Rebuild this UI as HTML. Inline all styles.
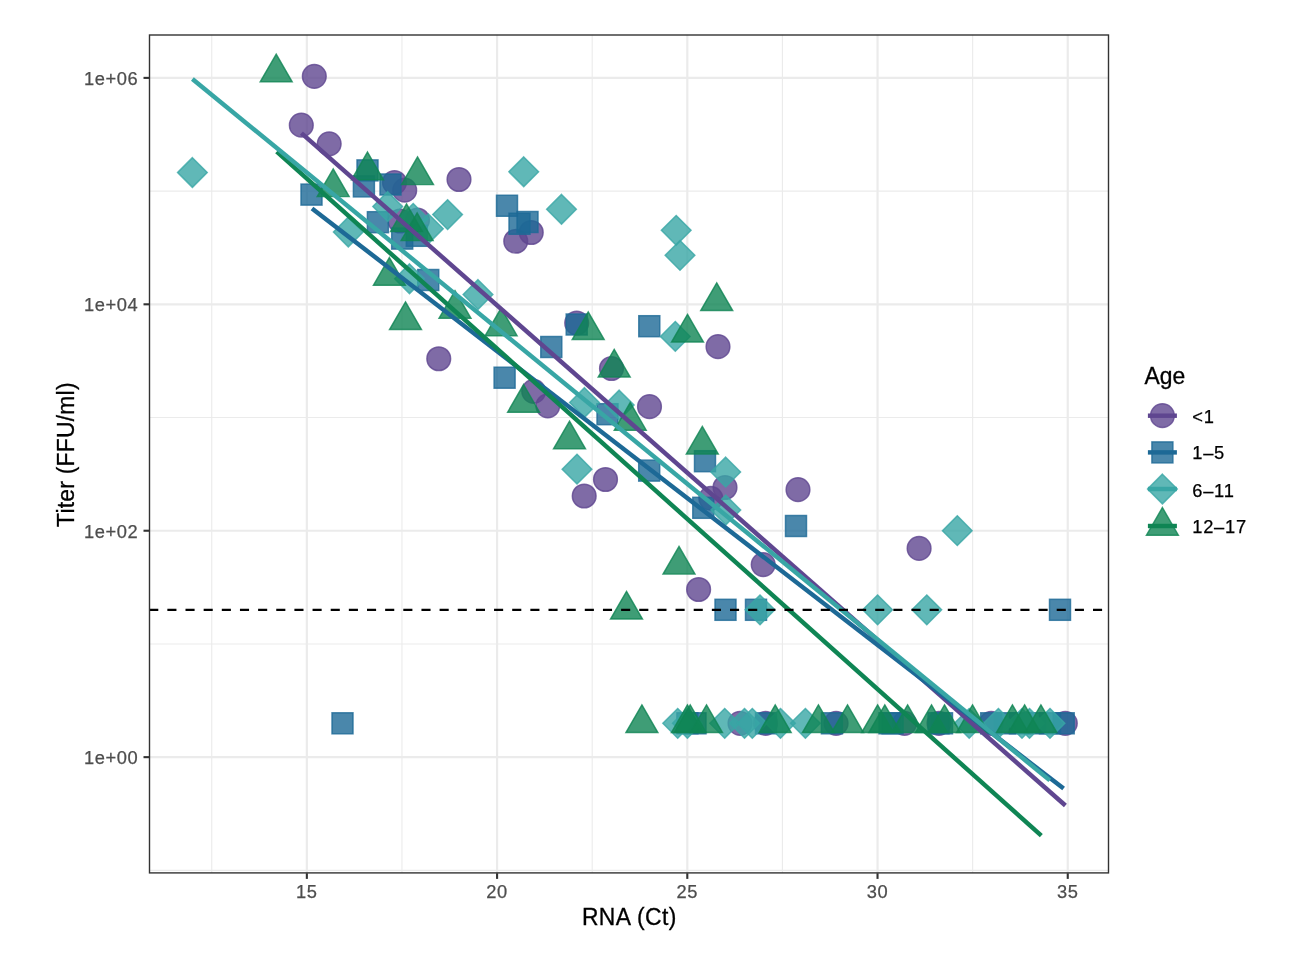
<!DOCTYPE html>
<html><head><meta charset="utf-8"><title>Titer vs RNA</title>
<style>
html,body{margin:0;padding:0;background:#fff}
svg{display:block;will-change:transform}
text{font-family:"Liberation Sans",sans-serif}
.p{fill:#5F4690;fill-opacity:0.8;stroke:#5F4690;stroke-opacity:0.8;stroke-width:1.47;stroke-linejoin:miter}
.lp{stroke:#5F4690;stroke-width:4.45;fill:none}
.b{fill:#1D6996;fill-opacity:0.8;stroke:#1D6996;stroke-opacity:0.8;stroke-width:1.47;stroke-linejoin:miter}
.lb{stroke:#1D6996;stroke-width:4.45;fill:none}
.t{fill:#38A6A5;fill-opacity:0.8;stroke:#38A6A5;stroke-opacity:0.8;stroke-width:1.47;stroke-linejoin:miter}
.lt{stroke:#38A6A5;stroke-width:4.45;fill:none}
.g{fill:#0F8554;fill-opacity:0.8;stroke:#0F8554;stroke-opacity:0.8;stroke-width:1.47;stroke-linejoin:miter}
.lg{stroke:#0F8554;stroke-width:4.45;fill:none}
.gM{stroke:#ebebeb;stroke-width:2.2}
.gm{stroke:#ebebeb;stroke-width:1.1}
.tk{stroke:#333;stroke-width:2.1}
.at{font-size:18.3px;fill:#4d4d4d;letter-spacing:.6px;stroke:#4d4d4d;stroke-width:.25px}
.ti{font-size:22.9px;fill:#000;stroke:#000;stroke-width:.3px}
.kt{font-size:18.3px;fill:#000;letter-spacing:.8px;stroke:#000;stroke-width:.25px}
</style></head><body>
<svg width="1308" height="960" viewBox="0 0 1308 960">
<rect width="1308" height="960" fill="#fff"/>
<defs><clipPath id="cp"><rect x="149.2" y="34.6" width="959.8" height="838.6"/></clipPath></defs>
<g clip-path="url(#cp)">
<line class="gm" x1="149.2" x2="1109" y1="191.1" y2="191.1"/><line class="gm" x1="149.2" x2="1109" y1="417.52" y2="417.52"/><line class="gm" x1="149.2" x2="1109" y1="643.94" y2="643.94"/><line class="gm" x1="149.2" x2="1109" y1="870.36" y2="870.36"/><line class="gm" x1="211.74" x2="211.74" y1="34.6" y2="873.2"/><line class="gm" x1="401.96" x2="401.96" y1="34.6" y2="873.2"/><line class="gm" x1="592.19" x2="592.19" y1="34.6" y2="873.2"/><line class="gm" x1="782.41" x2="782.41" y1="34.6" y2="873.2"/><line class="gm" x1="972.64" x2="972.64" y1="34.6" y2="873.2"/>
<line class="gM" x1="149.2" x2="1109" y1="77.89" y2="77.89"/><line class="gM" x1="149.2" x2="1109" y1="304.31" y2="304.31"/><line class="gM" x1="149.2" x2="1109" y1="530.73" y2="530.73"/><line class="gM" x1="149.2" x2="1109" y1="757.15" y2="757.15"/><line class="gM" x1="306.85" x2="306.85" y1="34.6" y2="873.2"/><line class="gM" x1="497.08" x2="497.08" y1="34.6" y2="873.2"/><line class="gM" x1="687.3" x2="687.3" y1="34.6" y2="873.2"/><line class="gM" x1="877.53" x2="877.53" y1="34.6" y2="873.2"/><line class="gM" x1="1067.75" x2="1067.75" y1="34.6" y2="873.2"/>
<g><circle class="p" cx="314.3" cy="76.3" r="11.85"/><circle class="p" cx="301.3" cy="125.2" r="11.85"/><circle class="p" cx="329.2" cy="143.8" r="11.85"/><circle class="p" cx="394.5" cy="182.5" r="11.85"/><circle class="p" cx="404.7" cy="190.2" r="11.85"/><circle class="p" cx="459" cy="179.5" r="11.85"/><circle class="p" cx="400" cy="221" r="11.85"/><circle class="p" cx="417.5" cy="220" r="11.85"/><circle class="p" cx="515.75" cy="241.25" r="11.85"/><circle class="p" cx="531.25" cy="232.5" r="11.85"/><circle class="p" cx="438.75" cy="358.75" r="11.85"/><circle class="p" cx="576.7" cy="323" r="11.85"/><circle class="p" cx="718" cy="346.7" r="11.85"/><circle class="p" cx="611.5" cy="368.5" r="11.85"/><circle class="p" cx="533.7" cy="391.3" r="11.85"/><circle class="p" cx="547.8" cy="405.8" r="11.85"/><circle class="p" cx="649.5" cy="406.7" r="11.85"/><circle class="p" cx="605.5" cy="479.5" r="11.85"/><circle class="p" cx="584.2" cy="496" r="11.85"/><circle class="p" cx="725" cy="487.5" r="11.85"/><circle class="p" cx="710.8" cy="498.3" r="11.85"/><circle class="p" cx="798" cy="489.7" r="11.85"/><circle class="p" cx="763.2" cy="564.6" r="11.85"/><circle class="p" cx="698.6" cy="589.5" r="11.85"/><circle class="p" cx="919.1" cy="548.4" r="11.85"/><circle class="p" cx="740" cy="723.3" r="11.85"/><circle class="p" cx="765.5" cy="723.3" r="11.85"/><circle class="p" cx="836.1" cy="723.3" r="11.85"/><circle class="p" cx="904.5" cy="723.3" r="11.85"/><circle class="p" cx="939" cy="723.3" r="11.85"/><circle class="p" cx="991.2" cy="723.3" r="11.85"/><circle class="p" cx="1065.3" cy="723.3" r="11.85"/></g>
<g><rect class="b" x="357" y="159.9" width="21" height="21"/><rect class="b" x="353.4" y="175.9" width="21" height="21"/><rect class="b" x="301" y="184.1" width="21" height="21"/><rect class="b" x="380" y="174" width="21" height="21"/><rect class="b" x="367.4" y="211.7" width="21" height="21"/><rect class="b" x="391.7" y="228.1" width="21" height="21"/><rect class="b" x="406.3" y="225.3" width="21" height="21"/><rect class="b" x="496.5" y="195.25" width="21" height="21"/><rect class="b" x="509" y="213.25" width="21" height="21"/><rect class="b" x="517" y="211.5" width="21" height="21"/><rect class="b" x="417.75" y="269.5" width="21" height="21"/><rect class="b" x="566.2" y="314" width="21" height="21"/><rect class="b" x="638.8" y="315.7" width="21" height="21"/><rect class="b" x="540.8" y="336.5" width="21" height="21"/><rect class="b" x="494.1" y="367.2" width="21" height="21"/><rect class="b" x="597" y="403.7" width="21" height="21"/><rect class="b" x="638.7" y="460.1" width="21" height="21"/><rect class="b" x="694.5" y="450.7" width="21" height="21"/><rect class="b" x="692.8" y="497.3" width="21" height="21"/><rect class="b" x="785.5" y="515.5" width="21" height="21"/><rect class="b" x="715" y="599.3" width="21" height="21"/><rect class="b" x="745.5" y="599.3" width="21" height="21"/><rect class="b" x="1049.5" y="599.3" width="21" height="21"/><rect class="b" x="332" y="712.8" width="21" height="21"/><rect class="b" x="676.9" y="712.8" width="21" height="21"/><rect class="b" x="685" y="712.8" width="21" height="21"/><rect class="b" x="755.5" y="712.8" width="21" height="21"/><rect class="b" x="821.4" y="712.8" width="21" height="21"/><rect class="b" x="879" y="712.8" width="21" height="21"/><rect class="b" x="882.1" y="712.8" width="21" height="21"/><rect class="b" x="931.5" y="712.8" width="21" height="21"/><rect class="b" x="928" y="712.8" width="21" height="21"/><rect class="b" x="980.7" y="712.8" width="21" height="21"/><rect class="b" x="994.5" y="712.8" width="21" height="21"/><rect class="b" x="1009.5" y="712.8" width="21" height="21"/><rect class="b" x="1024.5" y="712.8" width="21" height="21"/><rect class="b" x="1039.5" y="712.8" width="21" height="21"/><rect class="b" x="1053.2" y="712.8" width="21" height="21"/></g>
<g><path class="t" d="M192.4 157.65L207.25 172.5L192.4 187.35L177.55 172.5Z"/><path class="t" d="M387.7 191.65L402.55 206.5L387.7 221.35L372.85 206.5Z"/><path class="t" d="M447.6 199.75L462.45 214.6L447.6 229.45L432.75 214.6Z"/><path class="t" d="M413.2 203.55L428.05 218.4L413.2 233.25L398.35 218.4Z"/><path class="t" d="M428.4 213.9L443.25 228.75L428.4 243.6L413.55 228.75Z"/><path class="t" d="M348.3 217.15L363.15 232L348.3 246.85L333.45 232Z"/><path class="t" d="M523.75 156.9L538.6 171.75L523.75 186.6L508.9 171.75Z"/><path class="t" d="M561.5 194.4L576.35 209.25L561.5 224.1L546.65 209.25Z"/><path class="t" d="M676.2 215.45L691.05 230.3L676.2 245.15L661.35 230.3Z"/><path class="t" d="M680 240.45L694.85 255.3L680 270.15L665.15 255.3Z"/><path class="t" d="M409.5 263.9L424.35 278.75L409.5 293.6L394.65 278.75Z"/><path class="t" d="M478 279.65L492.85 294.5L478 309.35L463.15 294.5Z"/><path class="t" d="M675.3 321.55L690.15 336.4L675.3 351.25L660.45 336.4Z"/><path class="t" d="M584.5 387.65L599.35 402.5L584.5 417.35L569.65 402.5Z"/><path class="t" d="M619.2 390.15L634.05 405L619.2 419.85L604.35 405Z"/><path class="t" d="M577 454.35L591.85 469.2L577 484.05L562.15 469.2Z"/><path class="t" d="M725.7 457.15L740.55 472L725.7 486.85L710.85 472Z"/><path class="t" d="M725.8 495.15L740.65 510L725.8 524.85L710.95 510Z"/><path class="t" d="M957.3 515.85L972.15 530.7L957.3 545.55L942.45 530.7Z"/><path class="t" d="M760 594.95L774.85 609.8L760 624.65L745.15 609.8Z"/><path class="t" d="M877.6 594.95L892.45 609.8L877.6 624.65L862.75 609.8Z"/><path class="t" d="M926.8 594.95L941.65 609.8L926.8 624.65L911.95 609.8Z"/><path class="t" d="M677.7 708.45L692.55 723.3L677.7 738.15L662.85 723.3Z"/><path class="t" d="M687.4 708.45L702.25 723.3L687.4 738.15L672.55 723.3Z"/><path class="t" d="M724.7 708.45L739.55 723.3L724.7 738.15L709.85 723.3Z"/><path class="t" d="M744.5 708.45L759.35 723.3L744.5 738.15L729.65 723.3Z"/><path class="t" d="M752.3 708.45L767.15 723.3L752.3 738.15L737.45 723.3Z"/><path class="t" d="M780.5 708.45L795.35 723.3L780.5 738.15L765.65 723.3Z"/><path class="t" d="M805.4 708.45L820.25 723.3L805.4 738.15L790.55 723.3Z"/><path class="t" d="M969.2 708.45L984.05 723.3L969.2 738.15L954.35 723.3Z"/><path class="t" d="M998.4 708.45L1013.25 723.3L998.4 738.15L983.55 723.3Z"/><path class="t" d="M1022 708.45L1036.85 723.3L1022 738.15L1007.15 723.3Z"/><path class="t" d="M1029.5 708.45L1044.35 723.3L1029.5 738.15L1014.65 723.3Z"/><path class="t" d="M1050 708.45L1064.85 723.3L1050 738.15L1035.15 723.3Z"/></g>
<g><path class="g" d="M276.2 54.17L292.16 81.81L260.24 81.81Z"/><path class="g" d="M367.5 152.07L383.46 179.71L351.54 179.71Z"/><path class="g" d="M333.2 168.97L349.16 196.61L317.24 196.61Z"/><path class="g" d="M417.5 156.97L433.46 184.61L401.54 184.61Z"/><path class="g" d="M406.5 203.97L422.46 231.61L390.54 231.61Z"/><path class="g" d="M417.1 212.97L433.06 240.61L401.14 240.61Z"/><path class="g" d="M389.4 257.57L405.36 285.21L373.44 285.21Z"/><path class="g" d="M455 290.67L470.96 318.31L439.04 318.31Z"/><path class="g" d="M405.5 301.87L421.46 329.51L389.54 329.51Z"/><path class="g" d="M501.1 308.07L517.06 335.71L485.14 335.71Z"/><path class="g" d="M588.2 311.87L604.16 339.51L572.24 339.51Z"/><path class="g" d="M716.7 282.87L732.66 310.51L700.74 310.51Z"/><path class="g" d="M687.5 314.37L703.46 342.01L671.54 342.01Z"/><path class="g" d="M614.2 349.37L630.16 377.01L598.24 377.01Z"/><path class="g" d="M523.6 384.57L539.56 412.21L507.64 412.21Z"/><path class="g" d="M630.25 402.57L646.21 430.21L614.29 430.21Z"/><path class="g" d="M569.5 421.17L585.46 448.81L553.54 448.81Z"/><path class="g" d="M702.3 426.47L718.26 454.11L686.34 454.11Z"/><path class="g" d="M679 546.47L694.96 574.11L663.04 574.11Z"/><path class="g" d="M626.5 591.37L642.46 619.01L610.54 619.01Z"/><path class="g" d="M641.9 704.87L657.86 732.51L625.94 732.51Z"/><path class="g" d="M687.4 704.87L703.36 732.51L671.44 732.51Z"/><path class="g" d="M690.2 704.87L706.16 732.51L674.24 732.51Z"/><path class="g" d="M706.5 704.87L722.46 732.51L690.54 732.51Z"/><path class="g" d="M775.2 704.87L791.16 732.51L759.24 732.51Z"/><path class="g" d="M818.4 704.87L834.36 732.51L802.44 732.51Z"/><path class="g" d="M847.5 704.87L863.46 732.51L831.54 732.51Z"/><path class="g" d="M877.6 704.87L893.56 732.51L861.64 732.51Z"/><path class="g" d="M884.8 704.87L900.76 732.51L868.84 732.51Z"/><path class="g" d="M907.6 704.87L923.56 732.51L891.64 732.51Z"/><path class="g" d="M931.5 704.87L947.46 732.51L915.54 732.51Z"/><path class="g" d="M944.5 704.87L960.46 732.51L928.54 732.51Z"/><path class="g" d="M972.5 704.87L988.46 732.51L956.54 732.51Z"/><path class="g" d="M1012.4 704.87L1028.36 732.51L996.44 732.51Z"/><path class="g" d="M1024.6 704.87L1040.56 732.51L1008.64 732.51Z"/><path class="g" d="M1040.9 704.87L1056.86 732.51L1024.94 732.51Z"/></g>
<line class="lp" x1="301.4" y1="133.1" x2="1065.4" y2="805.5"/><line class="lb" x1="312" y1="208.4" x2="1063.6" y2="788.6"/><line class="lg" x1="276.7" y1="151.6" x2="1041.3" y2="835.6"/><line class="lt" x1="192.4" y1="79" x2="1049.8" y2="780.4"/>
<line x1="149.2" x2="1109" y1="609.8" y2="609.8" stroke="#000" stroke-width="2.25" stroke-dasharray="9.1 9.05"/>
</g>
<rect x="149.5" y="35" width="959" height="837.9" fill="none" stroke="#333" stroke-width="1.4"/>
<line class="tk" x1="143.5" x2="149.2" y1="77.89" y2="77.89"/><text class="at" x="138.4" y="84.79" text-anchor="end">1e+06</text><line class="tk" x1="143.5" x2="149.2" y1="304.31" y2="304.31"/><text class="at" x="138.4" y="311.21" text-anchor="end">1e+04</text><line class="tk" x1="143.5" x2="149.2" y1="530.73" y2="530.73"/><text class="at" x="138.4" y="537.63" text-anchor="end">1e+02</text><line class="tk" x1="143.5" x2="149.2" y1="757.15" y2="757.15"/><text class="at" x="138.4" y="764.05" text-anchor="end">1e+00</text>
<line class="tk" x1="306.85" x2="306.85" y1="873.2" y2="878.9"/><text class="at" x="306.85" y="897.5" text-anchor="middle">15</text><line class="tk" x1="497.08" x2="497.08" y1="873.2" y2="878.9"/><text class="at" x="497.08" y="897.5" text-anchor="middle">20</text><line class="tk" x1="687.3" x2="687.3" y1="873.2" y2="878.9"/><text class="at" x="687.3" y="897.5" text-anchor="middle">25</text><line class="tk" x1="877.53" x2="877.53" y1="873.2" y2="878.9"/><text class="at" x="877.53" y="897.5" text-anchor="middle">30</text><line class="tk" x1="1067.75" x2="1067.75" y1="873.2" y2="878.9"/><text class="at" x="1067.75" y="897.5" text-anchor="middle">35</text>
<text class="ti" transform="translate(629.4 924.7) scale(1 1.035)" text-anchor="middle" style="letter-spacing:.43px">RNA (Ct)</text>
<text class="ti" transform="translate(73.9 454.6) rotate(-90) scale(1 1.035)" text-anchor="middle" style="letter-spacing:.22px">Titer (FFU/ml)</text>
<text class="ti" transform="translate(1144.4 383.8) scale(1 1.035)">Age</text>
<circle class="p" cx="1162.4" cy="415.7" r="11.85"/><line class="lp" x1="1147.9" x2="1176.9" y1="415.7" y2="415.7"/><text class="kt" x="1192.2" y="422.5">&lt;1</text>
<rect class="b" x="1151.9" y="441.9" width="21" height="21"/><line class="lb" x1="1147.9" x2="1176.9" y1="452.4" y2="452.4"/><text class="kt" x="1192.2" y="459.3">1–5</text>
<path class="t" d="M1162.4 474.15L1177.25 489L1162.4 503.85L1147.55 489Z"/><line class="lt" x1="1147.9" x2="1176.9" y1="489" y2="489"/><text class="kt" x="1192.2" y="496.6">6–11</text>
<path class="g" d="M1162.4 507.57L1178.36 535.21L1146.44 535.21Z"/><line class="lg" x1="1147.9" x2="1176.9" y1="526" y2="526"/><text class="kt" x="1192.2" y="532.8">12–17</text>
</svg>
</body></html>
